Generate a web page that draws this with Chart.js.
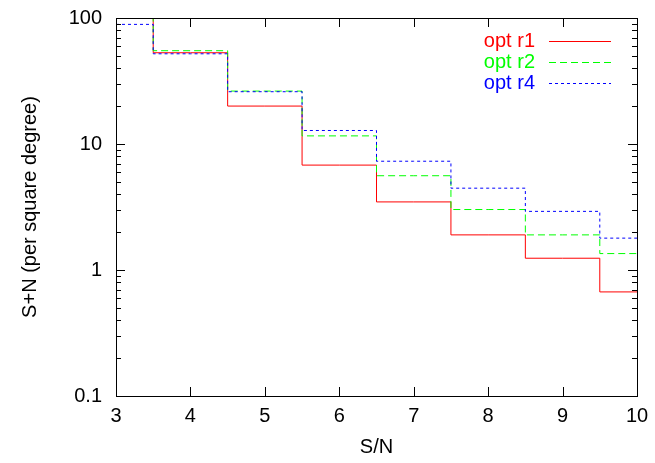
<!DOCTYPE html>
<html>
<head>
<meta charset="utf-8">
<script src="https://cdn.jsdelivr.net/npm/chart.js@4/dist/chart.umd.min.js"></script>
<style>
  html, body { margin: 0; padding: 0; background: #fff; }
  #caja { width: 655px; height: 463px; }
</style>
</head>
<body>
<div id="caja"><canvas id="grafica" width="655" height="463"></canvas></div>
<script>
// valores S/N (centro de cada escalon)
const snValores = [3, 4, 5, 6, 7, 8, 9, 10];
// S+N por grado cuadrado (los >100 quedan fuera)
const optR1 = [160, 53, 20, 6.8, 3.47, 1.9, 1.24, 0.67];
const optR2 = [180, 55, 26.3, 11.6, 5.6, 3.02, 1.9, 1.35];
const optR4 = [89, 52, 26, 12.8, 7.3, 4.46, 2.92, 1.79];
const etiquetasY = [0.1, 1, 10, 100];
const nombresSeries = ['opt r1', 'opt r2', 'opt r4'];
const coloresSeries = ['#ff0000', '#00ff00', '#0000ff'];
const guiones = [[], [7, 4], [3, 3]];

const fuente = '"Liberation Sans", Arial, Helvetica, sans-serif';

function puntos(valores) {
  return snValores.map((x, i) => ({ x: x, y: valores[i] }));
}

const datasets = [optR1, optR2, optR4].map((vals, i) => ({
  label: nombresSeries[i],
  data: puntos(vals),
  borderColor: coloresSeries[i],
  backgroundColor: coloresSeries[i],
  borderWidth: 1,
  borderDash: guiones[i],
  stepped: 'middle',
  pointRadius: 0,
  fill: false,
  order: 3 - i
}));

// marco con ticks hacia dentro, estilo gnuplot
const marcoGnuplot = {
  id: 'marcoGnuplot',
  afterDatasetsDraw(chart) {
    const { ctx, chartArea: a, scales } = chart;
    const x = scales.x, y = scales.y;
    ctx.save();
    ctx.strokeStyle = '#000';
    ctx.lineWidth = 1;
    ctx.beginPath();
    snValores.forEach(v => {
      const px = Math.round(x.getPixelForValue(v)) + 0.5;
      ctx.moveTo(px, a.bottom); ctx.lineTo(px, a.bottom - 9);
      ctx.moveTo(px, a.top); ctx.lineTo(px, a.top + 9);
    });
    for (let d = 0.1; d < 100; d *= 10) {
      for (let k = 1; k <= 10; k++) {
        const v = d * k;
        if (v > 100.0001) break;
        const py = Math.round(y.getPixelForValue(v)) + 0.5;
        const largo = (k === 1 || k === 10) ? 9 : 5;
        ctx.moveTo(a.left, py); ctx.lineTo(a.left + largo, py);
        ctx.moveTo(a.right, py); ctx.lineTo(a.right - largo, py);
      }
    }
    ctx.stroke();
    ctx.strokeRect(Math.round(a.left) + 0.5, Math.round(a.top) + 0.5,
      Math.round(a.right - a.left), Math.round(a.bottom - a.top));

    // leyenda
    ctx.font = '20px ' + fuente;
    ctx.textAlign = 'right';
    ctx.textBaseline = 'middle';
    nombresSeries.forEach((n, i) => {
      const fy = 41 + i * 21;
      ctx.fillStyle = coloresSeries[i];
      ctx.fillText(n, 535, fy);
      ctx.strokeStyle = coloresSeries[i];
      ctx.setLineDash(guiones[i]);
      ctx.beginPath();
      ctx.moveTo(549, fy + 0.5);
      ctx.lineTo(611, fy + 0.5);
      ctx.stroke();
    });
    ctx.restore();
  }
};

new Chart(document.getElementById('grafica').getContext('2d'), {
  type: 'line',
  data: { datasets: datasets },
  options: {
    responsive: false,
    animation: false,
    layout: { padding: { top: 18, right: 18, left: 0, bottom: 0 } },
    scales: {
      x: {
        type: 'linear',
        min: 3,
        max: 10,
        grid: { display: false, drawTicks: false },
        border: { display: false },
        ticks: {
          stepSize: 1,
          padding: 8,
          color: '#000',
          font: { family: fuente, size: 20 }
        },
        title: {
          display: true,
          text: 'S/N',
          color: '#000',
          font: { family: fuente, size: 20 },
          padding: { top: 0, bottom: 4 }
        },
        afterFit(s) {
          s.height = 67;
          s.paddingLeft = 0;
          s.paddingRight = 0;
        }
      },
      y: {
        type: 'logarithmic',
        min: 0.1,
        max: 100,
        grid: { display: false, drawTicks: false },
        border: { display: false },
        afterBuildTicks(s) {
          s.ticks = etiquetasY.map(v => ({ value: v }));
        },
        ticks: {
          autoSkip: false,
          padding: 14,
          color: '#000',
          font: { family: fuente, size: 20 },
          callback: v => String(v)
        },
        title: {
          display: true,
          text: 'S+N (per square degree)',
          color: '#000',
          font: { family: fuente, size: 20 },
          padding: { top: 18, bottom: 0 }
        },
        afterFit(s) {
          s.width = 116;
          s.paddingTop = 0;
          s.paddingBottom = 0;
        }
      }
    },
    plugins: {
      legend: { display: false },
      tooltip: { enabled: false }
    }
  },
  plugins: [marcoGnuplot]
});
</script>
</body>
</html>
